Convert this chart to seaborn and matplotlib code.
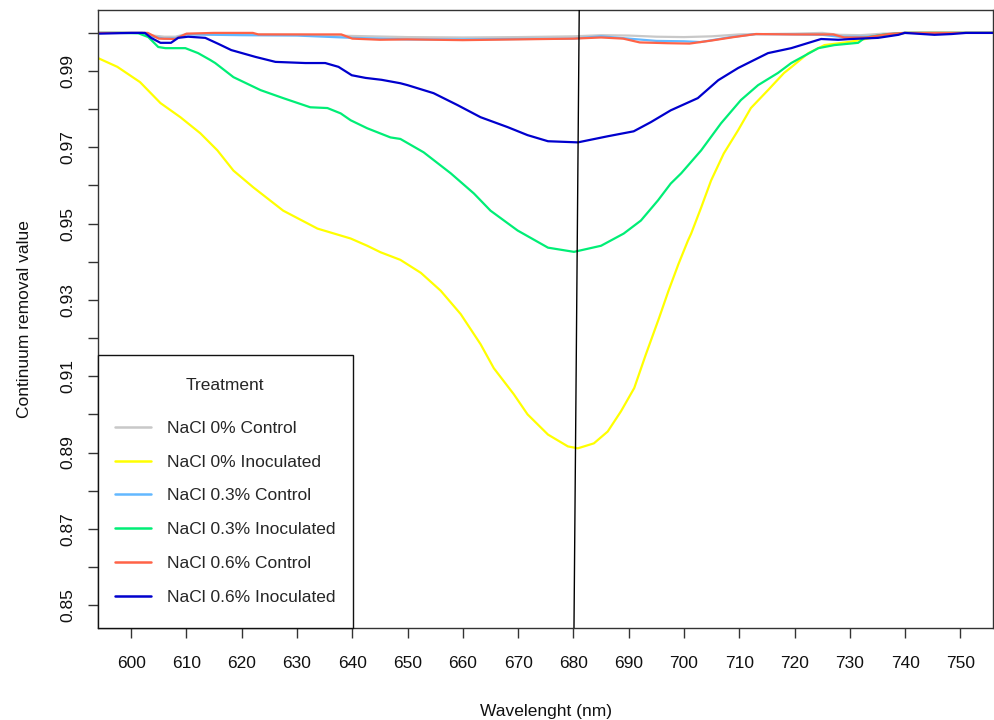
import numpy as np
import pandas as pd
import matplotlib
matplotlib.use("Agg")
import matplotlib.pyplot as plt
import seaborn as sns
from matplotlib.lines import Line2D
from matplotlib.offsetbox import VPacker, DrawingArea

# ---------------- data ----------------
treatments = ["NaCl 0% Control", "NaCl 0% Inoculated", "NaCl 0.3% Control",
              "NaCl 0.3% Inoculated", "NaCl 0.6% Control", "NaCl 0.6% Inoculated"]
colors = ["#C8C8C8", "#FFFF00", "#63B8FF", "#00EE76", "#FF6347", "#0000CD"]

ctrl0_wl = [594, 602, 604, 606, 608, 610, 620, 630, 640, 650, 660, 670, 680, 685, 690, 695,
            700, 705, 710, 715, 720, 725, 728, 732, 736, 740, 756]
ctrl0_val = [1.0, 1.0, 0.9993, 0.9990, 0.9990, 0.9997, 0.9996, 0.9995, 0.9992, 0.9989, 0.9988,
             0.9989, 0.9991, 0.9994, 0.9993, 0.9990, 0.9989, 0.9991, 0.9996, 0.9997, 0.9998,
             1.0, 0.9995, 0.9994, 0.9998, 1.0, 1.0]

inoc0_wl = [594, 597.5, 601.6, 605.3, 608.9, 612.5, 615.6, 618.5, 622.1, 627.5, 633.7, 639.7,
            642.7, 645.1, 648.7, 652.4, 656, 659.6, 663.2, 665.6, 669.2, 671.7, 675.4, 679,
            680.8, 683.7, 686.2, 688.6, 691.0, 693.1, 695.5, 697.2, 699.0, 700.7, 701.3, 703.1,
            704.9, 707.2, 709.8, 712.1, 715.2, 718.1, 719.4, 722.5, 725.4, 729.7, 732.1, 735,
            738, 740, 745, 750, 756]
inoc0_val = [0.9934, 0.9911, 0.9871, 0.9816, 0.9779, 0.9737, 0.9692, 0.9639, 0.9595, 0.9534,
             0.9487, 0.9461, 0.9442, 0.9425, 0.9405, 0.9371, 0.9324, 0.9263, 0.9184, 0.9121,
             0.9053, 0.9000, 0.8947, 0.8916, 0.8911, 0.8924, 0.8955, 0.9008, 0.9069, 0.9157,
             0.9253, 0.9324, 0.9394, 0.9455, 0.9474, 0.9542, 0.9613, 0.9684, 0.9745, 0.9803,
             0.9850, 0.9895, 0.9910, 0.9947, 0.9968, 0.9976, 0.9982, 0.9990, 0.9995, 1.0,
             1.0, 1.0, 1.0]

ctrl3_wl = [594, 602, 604, 606, 608, 610, 620, 630, 640, 650, 660, 670, 680, 685, 690, 695,
            700, 703, 708, 713, 720, 725, 728, 733, 737, 740, 756]
ctrl3_val = [1.0, 1.0, 0.9990, 0.9985, 0.9986, 0.9996, 0.9994, 0.9993, 0.9987, 0.9983, 0.9983,
             0.9984, 0.9985, 0.9991, 0.9985, 0.9979, 0.9978, 0.9976, 0.9988, 0.9997, 0.9996,
             0.9995, 0.9990, 0.9990, 0.9997, 1.0, 1.0]

inoc3_wl = [594, 598, 601.3, 603.1, 604.9, 606.2, 609.8, 612.1, 614.3, 615.2, 618.5, 623.4,
            627.5, 632.4, 635.5, 637.9, 639.7, 642.7, 646.9, 648.7, 652.9, 657.8, 662.0, 665.0,
            669.9, 675.4, 680.1, 685.0, 689.1, 692.2, 695.3, 697.6, 699.5, 703.1, 706.7, 710.3,
            713.4, 717.0, 719.4, 724.3, 727.2, 731.5, 732.7, 736, 740, 756]
inoc3_val = [1.0, 1.0, 0.9999, 0.9989, 0.9963, 0.9960, 0.9960, 0.9947, 0.9929, 0.9921, 0.9884,
             0.9850, 0.9829, 0.9805, 0.9803, 0.9789, 0.9771, 0.9750, 0.9726, 0.9722, 0.9687,
             0.9632, 0.9579, 0.9534, 0.9482, 0.9437, 0.9426, 0.9442, 0.9474, 0.9508, 0.9561,
             0.9605, 0.9632, 0.9692, 0.9763, 0.9824, 0.9863, 0.9895, 0.9921, 0.9960, 0.9968,
             0.9974, 0.9987, 0.9995, 1.0, 1.0]

ctrl6_wl = [594, 603, 605, 608, 610, 615, 622, 623, 638, 640, 645, 650, 660, 670, 675, 680,
            685, 689, 692, 697, 701, 705, 709, 713, 720, 727, 729, 733, 737, 740, 756]
ctrl6_val = [1.0, 1.0, 0.9985, 0.9984, 0.9998, 1.0, 1.0, 0.9996, 0.9996, 0.9985, 0.9982,
             0.9983, 0.9981, 0.9983, 0.9984, 0.9985, 0.9988, 0.9985, 0.9975, 0.9973, 0.9972,
             0.9980, 0.9989, 0.9997, 0.9996, 0.9996, 0.9988, 0.9988, 0.9997, 1.0, 1.0]

inoc6_wl = [594, 600, 602.5, 603.6, 605.3, 607.2, 608.5, 610.3, 613.4, 615.8, 618.1, 622.5,
            626.1, 631.5, 635.1, 637.5, 639.9, 642.4, 645.3, 648.7, 650.0, 654.7, 659.0, 663.2,
            668.1, 671.7, 675.4, 680.8, 686.2, 690.9, 694.0, 697.6, 702.5, 706.2, 709.8, 712.7,
            715.2, 719.4, 723.0, 724.8, 727.9, 730.3, 735.1, 738.8, 739.9, 745.3, 748.4, 751, 756]
inoc6_val = [0.9998, 1.0, 1.0, 0.9987, 0.9974, 0.9974, 0.9987, 0.9990, 0.9987, 0.9971, 0.9955,
             0.9937, 0.9924, 0.9921, 0.9921, 0.9911, 0.9889, 0.9882, 0.9877, 0.9868, 0.9863,
             0.9842, 0.9811, 0.9779, 0.9753, 0.9732, 0.9716, 0.9713, 0.9729, 0.9742, 0.9766,
             0.9797, 0.9829, 0.9876, 0.9908, 0.9929, 0.9947, 0.9960, 0.9976, 0.9984, 0.9982,
             0.9984, 0.9987, 0.9995, 1.0, 0.9995, 0.9997, 1.0, 1.0]

x_ticks = [600, 610, 620, 630, 640, 650, 660, 670, 680, 690, 700, 710, 720, 730, 740, 750]
y_ticks = [0.85, 0.86, 0.87, 0.88, 0.89, 0.90, 0.91, 0.92, 0.93, 0.94, 0.95, 0.96, 0.97,
           0.98, 0.99, 1.00]
y_tick_labels = ["0.85", "", "0.87", "", "0.89", "", "0.91", "", "0.93", "", "0.95", "",
                 "0.97", "", "0.99", ""]
marker_line_x = [680.1, 681.05]
marker_line_y = [0.844, 1.006]

# ---------------- build long table ----------------
series = [(ctrl0_wl, ctrl0_val), (inoc0_wl, inoc0_val), (ctrl3_wl, ctrl3_val),
          (inoc3_wl, inoc3_val), (ctrl6_wl, ctrl6_val), (inoc6_wl, inoc6_val)]
frames = []
for name, (wl, val) in zip(treatments, series):
    frames.append(pd.DataFrame({"Wavelength": wl, "Value": val, "Treatment": name}))
df = pd.concat(frames, ignore_index=True)

# ---------------- plot ----------------
sns.set_theme(style="white")
plt.rcParams["font.family"] = ["Liberation Sans", "DejaVu Sans"]

fig = plt.figure(figsize=(9.94, 7.2), dpi=100)
ax = fig.add_axes([0.0986, 0.1278, 0.9004, 0.8583])

sns.lineplot(data=df, x="Wavelength", y="Value", hue="Treatment", hue_order=treatments,
             palette=colors, estimator=None, sort=False, linewidth=1.6, ax=ax, legend=False)

ax.plot(marker_line_x, marker_line_y, color="black", linewidth=1.0, zorder=5)

ax.set_xlim(594, 755.9)
ax.set_ylim(0.844, 1.006)
ax.set_xticks(x_ticks)
ax.set_xticklabels([str(t) for t in x_ticks])
ax.set_yticks(y_ticks)
ax.set_yticklabels(y_tick_labels, rotation=90, va="center")

for s in ax.spines.values():
    s.set_visible(True)
    s.set_color("#333333")
    s.set_linewidth(1.0)

ax.tick_params(axis="both", which="major", direction="out", length=7.5, width=1.0,
               color="#333333", labelsize=12.5, labelcolor="#111111",
               bottom=True, left=True, top=False, right=False)
ax.tick_params(axis="x", pad=13)
ax.tick_params(axis="y", pad=8.5)

ax.set_xlabel("Wavelenght (nm)", fontsize=12.5, color="#111111", labelpad=23.5)
ax.set_ylabel("Continuum removal value", fontsize=12.5, color="#111111", labelpad=21)

handles = [Line2D([0], [0], color=c, linewidth=1.8) for c in colors]
leg = ax.legend(handles, treatments, title="Treatment", loc="lower left",
                bbox_to_anchor=(0, 0), borderaxespad=0, frameon=True, fancybox=False,
                fontsize=12.5, title_fontsize=12.5, handlelength=2.05, handletextpad=0.95,
                labelspacing=1.07, borderpad=0.98)
leg.get_frame().set_edgecolor("#111111")
leg.get_frame().set_linewidth(1.0)
leg.get_frame().set_facecolor("white")
leg.get_frame().set_alpha(1.0)
leg._legend_box.sep = 20
# extra vertical padding (top / bottom) so the box is taller than it is wide-padded
inner = leg._legend_box
outer = VPacker(pad=0, sep=0, align="left",
                children=[DrawingArea(0, 4.6), inner, DrawingArea(0, 4.6)])
outer.set_figure(fig)
outer.axes = ax
leg._legend_box = outer
outer.set_offset(leg._findoffset)

fig.savefig("out.png", dpi=100, facecolor="white")
